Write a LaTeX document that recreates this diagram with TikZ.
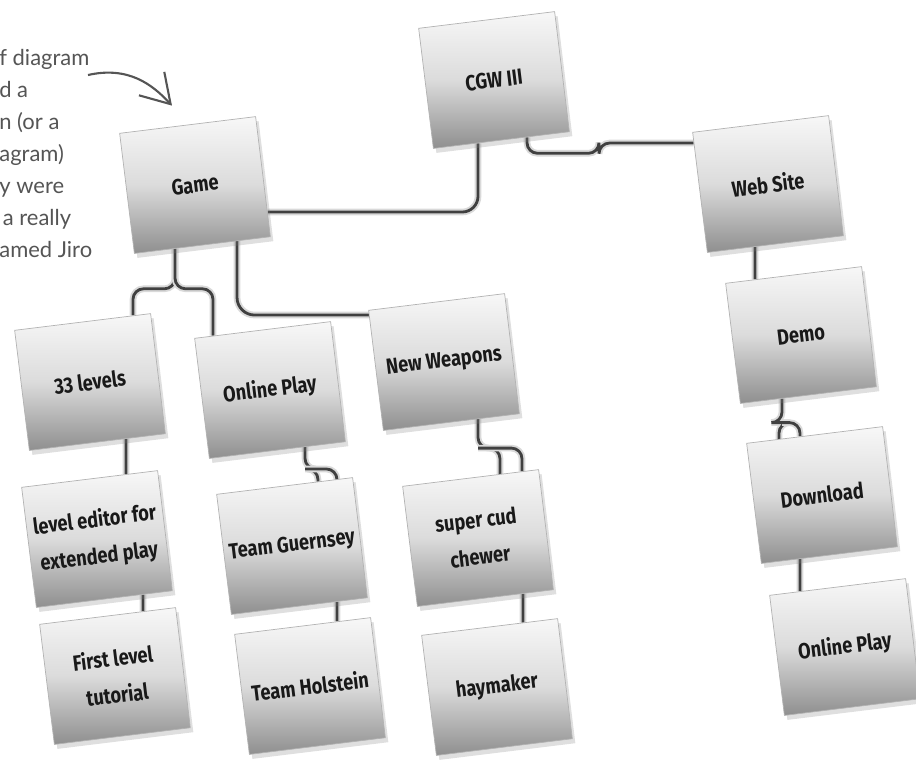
\documentclass[tikz,border=0pt]{standalone}
\usepackage{fontspec}
\setmainfont{Lato}
\newfontfamily\cardfont[FakeStretch=0.83]{Fira Sans}
\usepackage{tikz}
\usetikzlibrary{shadows, arrows.meta, calc, backgrounds}
\definecolor{cordgray}{RGB}{64, 64, 64}
\definecolor{notegray}{RGB}{85, 85, 85}

\begin{document}
\begin{tikzpicture}[
    x=0.02cm, y=-0.02cm,
    card/.style={
        rectangle,
        rotate=7,
        draw=black!30,
        top color=black!3,
        bottom color=black!44,
        middle color=black!14,
        minimum width=2.74cm,
        minimum height=2.42cm,
        inner sep=2pt,
        drop shadow={shadow xshift=0.6mm, shadow yshift=-0.9mm, opacity=0.25},
        font=\cardfont\bfseries\fontsize{12.5}{21}\selectfont,
        text=black!90,
        align=center
    },
    link/.style={draw=cordgray, line width=1.6pt, rounded corners=6pt,
        preaction={draw=black!15, line width=3.8pt}},
    note/.style={font=\fontsize{12.5}{18.2}\selectfont, text=notegray, align=left, inner sep=0pt},
    pointer/.style={draw=notegray, line width=1.2pt, -{Straight Barb[length=5.6mm, width=6.9mm]}}
]
    \useasboundingbox (0,0) rectangle (916,779);

    % Margin note
    \node[note, anchor=north west] (note) at (-1,49)
        {f diagram\\d a\\n (or a\\agram)\\y were\\\hspace*{2pt}a really\\amed Jiro};
    \coordinate (tail) at (88,75);

    % Top level
    \node[card] (cgw) at (494,80) {CGW III};
    \node[card] (game) at (195,185) {Game};
    \node[card] (web) at (768,184) {Web Site};

    % Game branch
    \node[card] (lv) at (90,382) {33 levels};
    \node[card] (olp) at (270,390) {Online Play};
    \node[card] (nw) at (444,362) {New Weapons};
    \node[card] (led) at (97,539) {level editor for\\extended play};
    \node[card] (flt) at (115,676) {First level\\tutorial};
    \node[card] (tg) at (292,546) {Team Guernsey};
    \node[card] (th) at (310,686) {Team Holstein};
    \node[card] (sc) at (478,538) {super cud\\chewer};
    \node[card] (hay) at (497,687) {haymaker};

    % Web Site branch
    \node[card] (demo) at (801,335) {Demo};
    \node[card] (dl) at (822,495) {Download};
    \node[card] (opr) at (845,647) {Online Play};

    \draw[pointer] (tail) .. controls (128,66) and (152,84) .. ($(game.north)+(-15.6,-19)$);

    \begin{scope}[on background layer]
    % Links to the root
    \draw[link, rounded corners=9pt] ($(game.east)+(4.3,35.4)$) -| ($(cgw.south)+(-23.4,2.9)$);
    \draw[link] ($(cgw.south)+(25.6,-3.1)$) |- ++(72,16) |- ($(web.west)+(-6,-49.35)$);

    % Game children
    \coordinate (gdown) at ($(game.south)+(-27.4,3.4)$);
    \draw[link] (gdown) -- ++(0,40) -| ($(lv.north)+(50.4,-6.2)$);
    \draw[link] (gdown) -- ++(0,40) -| ($(olp.north)+(-49.6,6.1)$);
    \draw[link, rounded corners=10pt] ($(game.south)+(34.6,-4.2)$) |- ($(nw.west)+(-6.8,-55.35)$);

    % Lower rows
    \draw[link] ($(lv.south)+(28.6,-3.5)$) -- ($(led.north)+(36.4,-4.5)$);
    \draw[link] ($(led.south)+(38.6,-4.7)$) -- ($(flt.north)+(35.4,-4.3)$);
    \draw[link] ($(olp.south)+(27.6,-3.4)$) -- ++(0,22) coordinate (olpfork) -| ($(tg.north)+(33.4,-4.1)$);
    \draw[link] (olpfork) -| ($(tg.north)+(52.4,-6.4)$);
    \draw[link] ($(tg.south)+(37.6,-4.6)$) -- ($(th.north)+(34.4,-4.2)$);
    \draw[link] ($(nw.south)+(26.6,-3.3)$) -- ++(0,29) coordinate (nwfork) -| ($(sc.north)+(29.4,-3.6)$);
    \draw[link] (nwfork) -| ($(sc.north)+(51.4,-6.3)$);
    \draw[link] ($(sc.south)+(37.6,-4.6)$) -- ($(hay.north)+(33.4,-4.1)$);

    % Web Site column
    \draw[link] ($(web.south)+(-20.4,2.5)$) -- ($(demo.north)+(-38.6,4.7)$);
    \draw[link] ($(demo.south)+(-26.4,3.2)$) -- ++(0,24) coordinate (demofork) -| ($(dl.north)+(-35.6,4.4)$);
    \draw[link] (demofork) -| ($(dl.north)+(-14.6,1.8)$);
    \draw[link] ($(dl.south)+(-29.4,3.6)$) -- ($(opr.north)+(-37.6,4.6)$);
    \end{scope}
\end{tikzpicture}
\end{document}
